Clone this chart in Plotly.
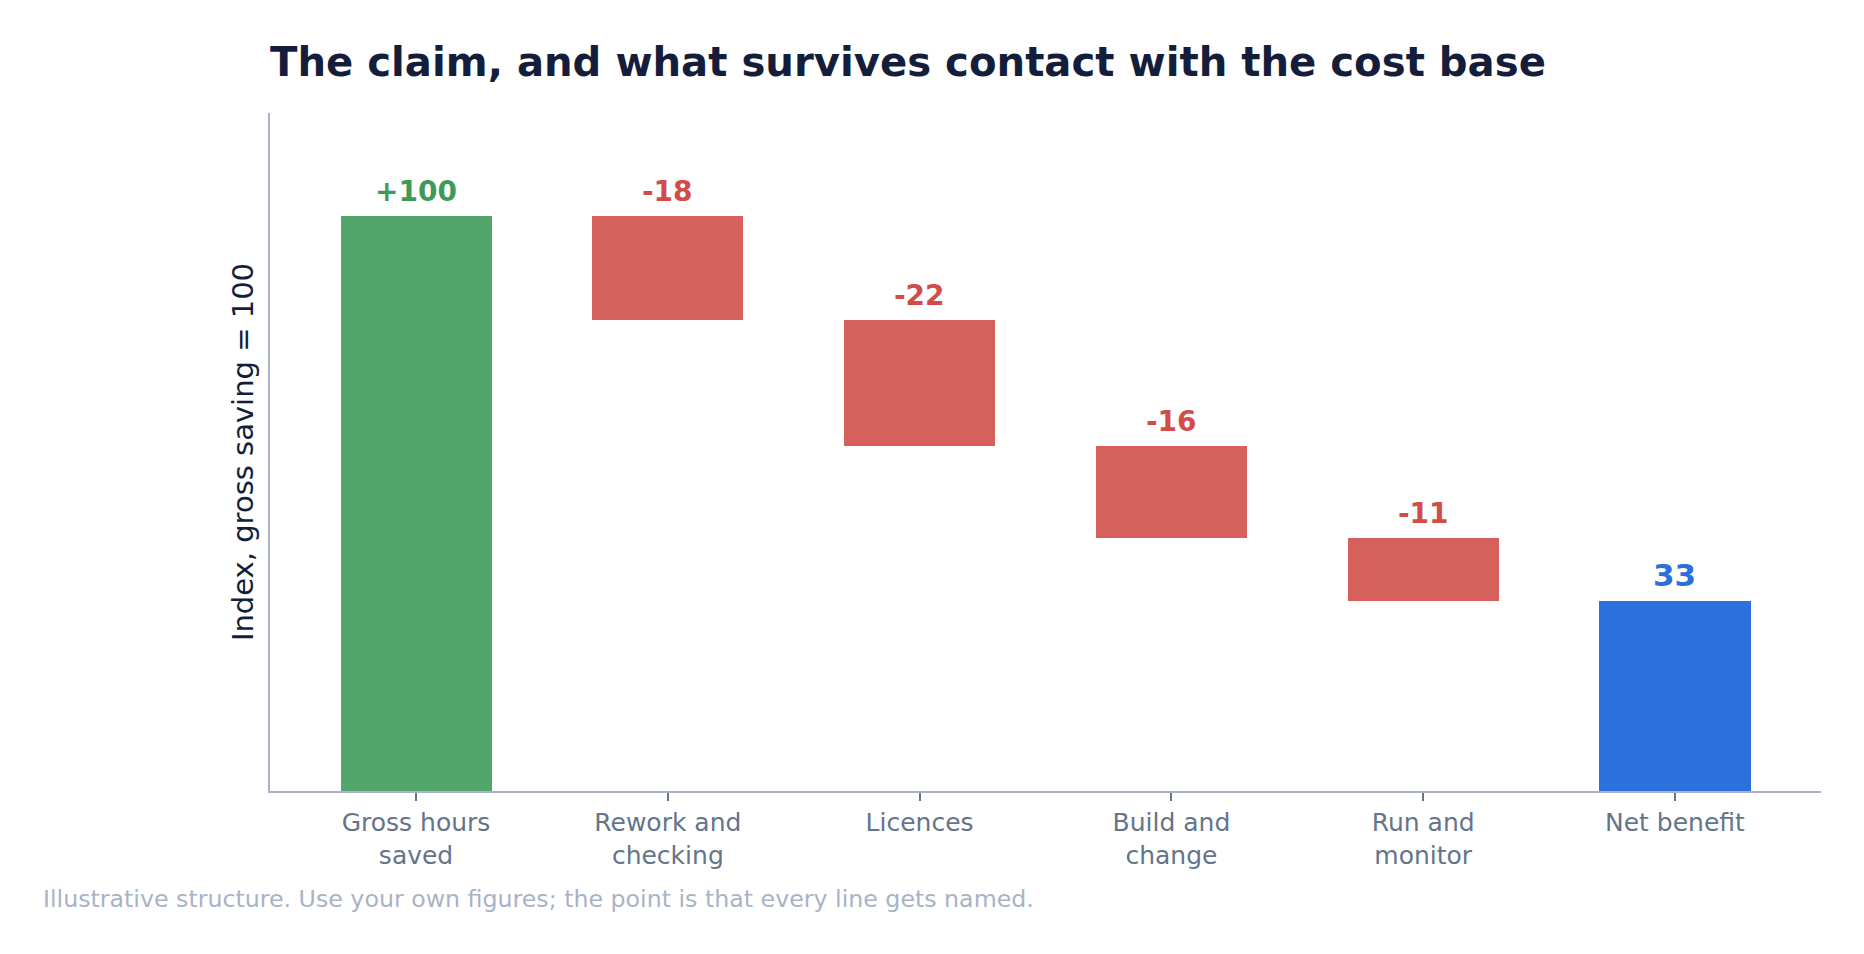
import plotly.graph_objects as go

# ---- data ----
categories = ["Gross hours<br>saved", "Rework and<br>checking", "Licences",
              "Build and<br>change", "Run and<br>monitor", "Net benefit"]
gross_saving = 100
deductions = [-18, -22, -16, -11]
label_texts = ["+100", "-18", "-22", "-16", "-11", "33"]

title_text = "The claim, and what survives contact with the cost base"
y_title = "Index, gross saving = 100"
footnote = "Illustrative structure. Use your own figures; the point is that every line gets named."

# ---- derived waterfall geometry ----
bases, heights, tops = [0], [gross_saving], [gross_saving]
running = gross_saving
for d in deductions:
    new = running + d
    bases.append(new)
    heights.append(-d)
    tops.append(running)
    running = new
net = running
bases.append(0)
heights.append(net)
tops.append(net)

GREEN, RED, BLUE = "#52a66b", "#d5605c", "#2c70dc"
GREEN_T, RED_T, BLUE_T = "#3f9a5a", "#d24d48", "#2b6fdc"
bar_colors = [GREEN] + [RED] * len(deductions) + [BLUE]
text_colors = [GREEN_T] + [RED_T] * len(deductions) + [BLUE_T]
text_sizes = [28] + [28] * len(deductions) + [31]

xs = list(range(len(categories)))

fig = go.Figure()
fig.add_trace(go.Bar(
    x=xs, y=heights, base=bases, width=0.6,
    marker=dict(color=bar_colors, line=dict(width=0)),
    hoverinfo="skip", showlegend=False,
))

for i in xs:
    fig.add_annotation(
        x=i, y=tops[i], xref="x", yref="y",
        text="<b>%s</b>" % label_texts[i],
        showarrow=False, yanchor="bottom", yshift=6,
        font=dict(family="DejaVu Sans", size=text_sizes[i], color=text_colors[i]),
    )

plot_h = 954 - 113 - 163
plot_w = 1864 - 270 - 43
fig.add_annotation(
    x=(41 - 270) / plot_w, y=(791 - 899) / plot_h, xref="paper", yref="paper",
    text=footnote, showarrow=False, xanchor="left", yanchor="middle",
    font=dict(family="DejaVu Sans", size=23.7, color="#a8b3c6"),
)

AXIS = "#aab4c6"
fig.update_layout(
    width=1864, height=954,
    margin=dict(l=270, r=43, t=113, b=163),
    paper_bgcolor="white", plot_bgcolor="white",
    font=dict(family="DejaVu Sans", color="#64748b"),
    title=dict(
        text="<b>%s</b>" % title_text,
        x=270 / 1864, xanchor="left", xref="container",
        y=1 - 62 / 954, yanchor="middle", yref="container",
        font=dict(family="DejaVu Sans", size=40.2, color="#141e3a"),
    ),
    bargap=0,
)
fig.update_xaxes(
    range=[-0.58, 5.58], tickmode="array", tickvals=xs, ticktext=categories,
    showline=True, linecolor=AXIS, linewidth=2, mirror=False,
    ticks="outside", ticklen=8, tickwidth=2, tickcolor="#64748b",
    tickfont=dict(family="DejaVu Sans", size=25, color="#64748b"),
    showgrid=False, zeroline=False, fixedrange=True,
)
fig.update_yaxes(
    range=[0, 118], showline=True, linecolor=AXIS, linewidth=2,
    showticklabels=False, ticks="", showgrid=False, zeroline=False,
    title=dict(text=y_title, standoff=6,
               font=dict(family="DejaVu Sans", size=29, color="#141e3a")),
    fixedrange=True,
)

fig.write_html("out.html")
